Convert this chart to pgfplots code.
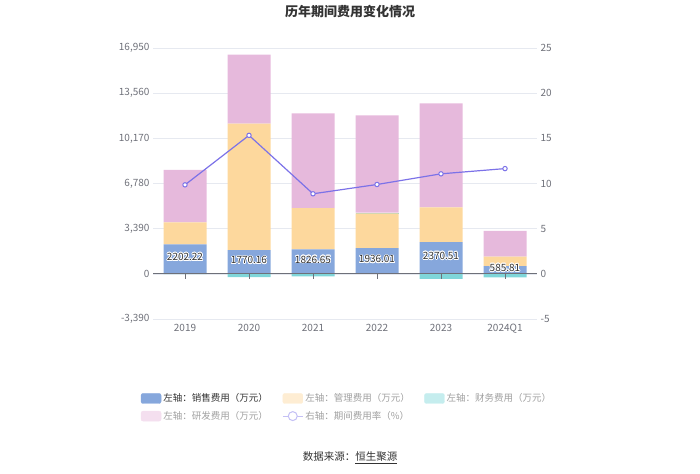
\documentclass[border=0pt]{standalone}
\usepackage{pgfplots}
\pgfplotsset{compat=1.18}
\usepackage{fontspec}
\setmainfont{Noto Sans CJK SC}
\usepackage[copies]{contour}
\contourlength{0.7pt}

\definecolor{salesc}{HTML}{86A7DC}
\definecolor{mgc}{HTML}{FDD89D}
\definecolor{finc}{HTML}{7FD6D9}
\definecolor{rdc}{HTML}{E6B9DC}
\definecolor{linec}{HTML}{7C72E8}
\definecolor{gridc}{HTML}{E6E9F0}
\definecolor{tickc}{HTML}{6E7079}
\definecolor{txtc}{HTML}{333333}
\definecolor{faintc}{HTML}{A0A0A0}

\pgfplotsset{
  base/.style={at={(153pt,154pt)}, anchor=south west, scale only axis,
    width=384pt, height=271pt, xmin=-0.5, xmax=5.5,
    axis line style={draw=none}, major tick length=0pt,
    tick label style={font=\fontsize{10}{12}\selectfont, text=tickc},
    /pgf/number format/assume math mode=true},
  barleg/.style={legend image code/.code={\fill[#1, rounded corners=2pt] (0pt,-5pt) rectangle (20pt,5pt);}},
}

\begin{document}
\begin{tikzpicture}[x=1pt,y=1pt]
\useasboundingbox (0,0) rectangle (700,473);
\node[font=\bfseries\fontsize{13}{15}\selectfont, text=txtc] at (350,461) {历年期间费用变化情况};

% left axis with grid and negative finance bars
\begin{axis}[base, ymin=-3390, ymax=16950,
  xtick={0,...,5}, xticklabels={2019,2020,2021,2022,2023,2024Q1},
  ytick={-3390,0,3390,6780,10170,13560,16950}, scaled y ticks=false,
  yticklabel style={/pgf/number format/1000 sep={,}},
  xticklabel style={yshift=-2pt},
  ymajorgrids, grid style={gridc, line width=0.6pt},
  ybar, bar width=43pt]
\addplot[fill=finc, draw=none] coordinates {(0,-30) (1,-250) (2,-200) (3,0) (4,-370) (5,-270)};
\end{axis}

% stacked positive bars
\begin{axis}[base, ymin=-3390, ymax=16950, hide axis, ybar stacked, bar width=43pt]
\addplot[fill=salesc, draw=none] coordinates {(0,2202.22) (1,1770.16) (2,1826.65) (3,1936.01) (4,2370.51) (5,585.81)};
\addplot[fill=mgc, draw=none] coordinates {(0,1660) (1,9500) (2,3110) (3,2600) (4,2615) (5,710)};
\addplot[fill=finc, draw=none] coordinates {(0,0) (1,0) (2,0) (3,50) (4,0) (5,0)};
\addplot[fill=rdc, draw=none] coordinates {(0,3940) (1,5180) (2,7100) (3,7300) (4,7800) (5,1920)};
\end{axis}

% zero line, ticks and value labels on sales bars
\begin{axis}[base, ymin=-3390, ymax=16950, hide axis]
\draw[tickc, line width=0.8pt] (axis cs:-0.5,0) -- (axis cs:5.5,0);
\pgfplotsinvokeforeach{0,...,5}{\draw[tickc, line width=0.8pt] (axis cs:#1,0) -- (axis cs:#1,-370);}
\addplot[draw=none, mark=none, nodes near coords={\contour{white}{\pgfplotspointmeta}},
  point meta=explicit symbolic,
  nodes near coords style={anchor=center, font=\fontsize{10}{12}\selectfont, text=txtc}]
  table[meta=l] {
x y l
0 1240 2202.22
1 1000 1770.16
2 1040 1826.65
3 1060 1936.01
4 1320 2370.51
5 420 585.81
};
\end{axis}

% right axis with expense ratio line and legend
\begin{axis}[base, ymin=-5, ymax=25, axis x line=none, axis y line*=right,
  ytick={-5,0,5,10,15,20,25},
  legend columns=3, legend cell align=left,
  legend style={at={(0.515,-0.26)}, anchor=north, draw=none, fill=none,
    font=\fontsize{9.5}{11}\selectfont, row sep=4pt,
    /tikz/every even column/.append style={column sep=5pt}}]
\addlegendimage{barleg=salesc}
\addlegendentry{\makebox[112pt][l]{\textcolor{txtc}{左轴：销售费用（万元）}}}
\addlegendimage{barleg=mgc!45!white}
\addlegendentry{\makebox[112pt][l]{\textcolor{faintc}{左轴：管理费用（万元）}}}
\addlegendimage{barleg=finc!45!white}
\addlegendentry{\makebox[112pt][l]{\textcolor{faintc}{左轴：财务费用（万元）}}}
\addlegendimage{barleg=rdc!45!white}
\addlegendentry{\makebox[112pt][l]{\textcolor{faintc}{左轴：研发费用（万元）}}}
\addlegendimage{legend image code/.code={\draw[linec!45!white, line width=1pt] (0pt,0pt) -- (20pt,0pt); \draw[linec!45!white, fill=white, line width=1pt] (10pt,0pt) circle (4.5pt);}}
\addlegendentry{\makebox[112pt][l]{\textcolor{faintc}{右轴：期间费用率（\%）}}}
\addplot[linec, line width=1.2pt, mark=*, mark size=2.2pt,
  mark options={fill=white, draw=linec, line width=1pt}]
  coordinates {(0,9.85) (1,15.33) (2,8.86) (3,9.89) (4,11.07) (5,11.65)};
\end{axis}

\node[font=\fontsize{10.5}{12}\selectfont, text=txtc] at (350,15) {数据来源：\underline{恒生聚源}};
\end{tikzpicture}
\end{document}
